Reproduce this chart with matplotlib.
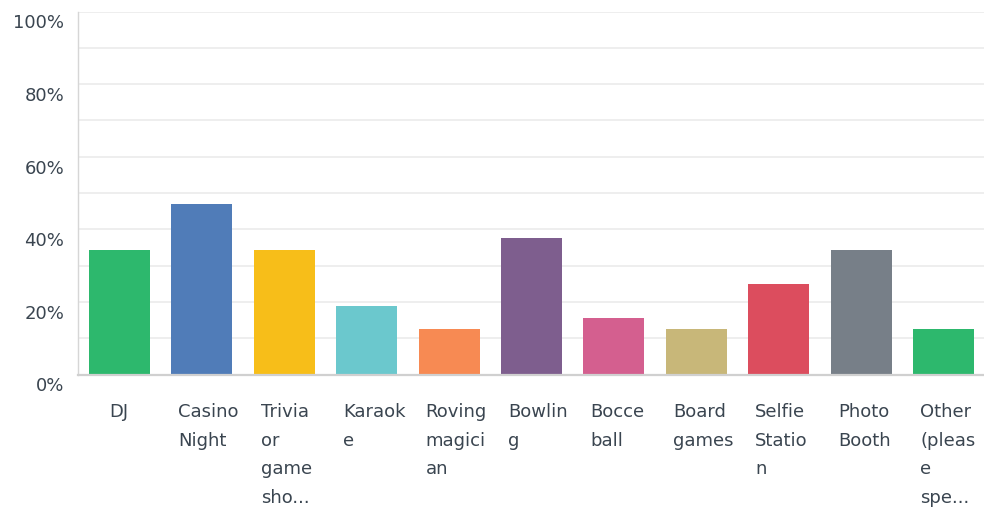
import numpy as np
import matplotlib.pyplot as plt
import matplotlib.transforms as mtransforms

categories = ["DJ", "Casino Night", "Trivia or game show", "Karaoke", "Roving magician",
              "Bowling", "Bocce ball", "Board games", "Selfie Station", "Photo Booth",
              "Other (please specify)"]
tick_text = ["DJ", "Casino\nNight", "Trivia\nor\ngame\nsho...", "Karaok\ne", "Roving\nmagici\nan",
             "Bowlin\ng", "Bocce\nball", "Board\ngames", "Selfie\nStatio\nn", "Photo\nBooth",
             "Other\n(pleas\ne\nspe..."]
percent = [34.38, 46.88, 34.38, 18.75, 12.50, 37.50, 15.63, 12.50, 25.00, 34.38, 12.50]
colors = ["#2db86d", "#507cb8", "#f7be19", "#6bc8cd", "#f78a53", "#7e5e8e",
          "#d45f8f", "#c8b779", "#dc4d5e", "#777f88", "#2db86d"]
yticks = [0, 20, 40, 60, 80, 100]

txt = "#3a4550"
plt.rcParams['font.family'] = ['DejaVu Sans']

fig = plt.figure(figsize=(9.84, 5.1), dpi=100)
ax = fig.add_axes([78/984, 134.5/510, 907/984, 363/510])

x = np.arange(len(categories))
w = 0.74
ax.bar(x, percent, width=w, color=colors, zorder=3)

ax.set_xlim(-0.5, len(categories) - 0.5)
ax.set_ylim(0, 100)
ax.set_yticks(yticks)
ax.set_yticklabels([f"{v}%" for v in yticks], fontsize=13, color=txt)
ax.set_yticks(np.arange(0, 101, 10), minor=True)
ax.tick_params(axis='y', which='both', length=0, pad=10)
ax.grid(axis='y', which='both', color='#ebebeb', linewidth=1.2, zorder=0)
ax.set_xticks([])

# push the percent labels a little below their gridlines
shift = mtransforms.ScaledTranslation(0, -0.09, fig.dpi_scale_trans)
for lab in ax.get_yticklabels():
    lab.set_transform(lab.get_transform() + shift)

for s in ["top", "right"]:
    ax.spines[s].set_visible(False)
ax.spines["left"].set_color("#d6d6d6")
ax.spines["left"].set_linewidth(1.0)
ax.spines["bottom"].set_color("#d0d0d0")
ax.spines["bottom"].set_linewidth(1.6)
ax.spines["bottom"].set_zorder(4)

# category labels, left aligned under each bar (short ones centred)
for i, t in enumerate(tick_text):
    if "\n" in t:
        ax.text(i - w/2 + 0.085, -0.077, t, transform=ax.get_xaxis_transform(),
                ha='left', va='top', fontsize=13, color=txt, linespacing=1.74)
    else:
        ax.text(i, -0.077, t, transform=ax.get_xaxis_transform(),
                ha='center', va='top', fontsize=13, color=txt, linespacing=1.74)

fig.savefig("out.png", dpi=100)
